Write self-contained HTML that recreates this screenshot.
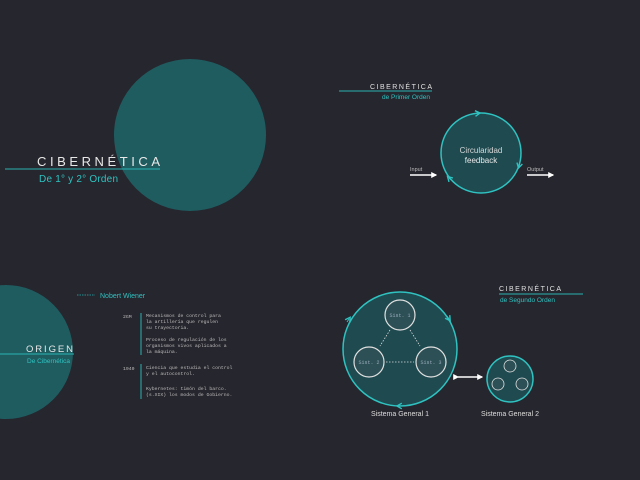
<!DOCTYPE html>
<html><head><meta charset="utf-8"><style>
html,body{margin:0;padding:0;background:#26262e;}
svg{display:block}
text{font-family:"Liberation Sans",sans-serif;}
.mono{font-family:"Liberation Mono",monospace;}
</style></head><body>
<svg width="640" height="480" viewBox="0 0 640 480">
<defs>
<marker id="ah" viewBox="0 0 10 10" refX="5" refY="5" markerWidth="7" markerHeight="7" orient="auto"><path d="M1,1 L8,5 L1,9" fill="none" stroke="#2fc2c0" stroke-width="2"/></marker>
<marker id="tw" viewBox="0 0 10 10" refX="8" refY="5" markerWidth="4" markerHeight="4" orient="auto"><path d="M0,0 L10,5 L0,10z" fill="#fff"/></marker>
</defs>
<rect width="640" height="480" fill="#26262e"/>

<g>
<circle cx="190" cy="135" r="76" fill="#1f5c60"/>
<text x="37" y="166" fill="#e8e8e8" font-size="13" textLength="123" lengthAdjust="spacing">CIBERNÉTICA</text>
<line x1="5" y1="169" x2="160" y2="169" stroke="#2ab3b3" stroke-width="1"/>
<text x="39" y="182" fill="#2fc2c0" font-size="10" textLength="79">De 1° y 2° Orden</text>
</g>

<g>
<text x="370" y="89" fill="#e0e0e0" font-size="7" textLength="62" lengthAdjust="spacing">CIBERNÉTICA</text>
<line x1="339" y1="91" x2="432" y2="91" stroke="#2ab3b3" stroke-width="1"/>
<text x="430" y="99" fill="#2fc2c0" font-size="6.5" text-anchor="end">de Primer Orden</text>
<circle cx="481" cy="153" r="40" fill="#1e4a50" stroke="#2fc2c0" stroke-width="1.5"/>
<path d="M474,113.6 L478,113.2" stroke="#2fc2c0" marker-end="url(#ah)"/>
<path d="M520,162 L519,166" stroke="#2fc2c0" marker-end="url(#ah)"/>
<path d="M451,180 L449,178" stroke="#2fc2c0" marker-end="url(#ah)"/>
<text x="481" y="153" fill="#d8d8d8" font-size="8" text-anchor="middle">Circularidad</text>
<text x="481" y="163" fill="#e8e8e8" font-size="8" text-anchor="middle">feedback</text>
<text x="410" y="171" fill="#bbb" font-size="5.5">Input</text>
<line x1="410" y1="175" x2="436" y2="175" stroke="#fff" stroke-width="1.5" marker-end="url(#tw)"/>
<text x="527" y="171" fill="#bbb" font-size="5.5">Output</text>
<line x1="527" y1="175" x2="553" y2="175" stroke="#fff" stroke-width="1.5" marker-end="url(#tw)"/>
</g>

<g>
<circle cx="6" cy="352" r="67" fill="#1f5c60"/>
<text x="26" y="352" fill="#e8e8e8" font-size="9.5" textLength="47" lengthAdjust="spacing">ORIGEN</text>
<line x1="0" y1="354" x2="74" y2="354" stroke="#2ab3b3" stroke-width="1"/>
<text x="27" y="363" fill="#2fc2c0" font-size="6.5">De Cibernética</text>
<line x1="77" y1="295" x2="95" y2="295" stroke="#2ab3b3" stroke-width="0.8" stroke-dasharray="1.5,1"/>
<text x="100" y="298" fill="#2fc2c0" font-size="7">Nobert Wiener</text>
<g class="mono" fill="#bbb" font-size="4.8">
<text x="123" y="318" class="mono">2GM</text>
<line x1="141" y1="313" x2="141" y2="355" stroke="#2ab3b3" stroke-width="1"/>
<text x="146" y="317" class="mono">Mecanismos de control para</text>
<text x="146" y="323" class="mono">la artillería que regulen</text>
<text x="146" y="329" class="mono">su trayectoria.</text>
<text x="146" y="341" class="mono">Proceso de regulación de los</text>
<text x="146" y="347" class="mono">organismos vivos aplicados a</text>
<text x="146" y="353" class="mono">la máquina.</text>
<text x="123" y="370" class="mono">1940</text>
<line x1="141" y1="364" x2="141" y2="399" stroke="#2ab3b3" stroke-width="1"/>
<text x="146" y="369" class="mono">Ciencia que estudia el control</text>
<text x="146" y="375" class="mono">y el autocontrol.</text>
<text x="146" y="390" class="mono">Kybernetes: timón del barco.</text>
<text x="146" y="396" class="mono">(s.XIX) los modos de Gobierno.</text>
</g>
</g>

<g>
<text x="499" y="291" fill="#e0e0e0" font-size="7" textLength="62" lengthAdjust="spacing">CIBERNÉTICA</text>
<line x1="499" y1="294" x2="583" y2="294" stroke="#2ab3b3" stroke-width="1"/>
<text x="500" y="302" fill="#2fc2c0" font-size="6.5">de Segundo Orden</text>

<g>
<circle cx="400" cy="349" r="57" fill="#1e4a50" stroke="#2fc2c0" stroke-width="1.5"/>
<path d="M447,316 L449,319" stroke="#2fc2c0" marker-end="url(#ah)"/>
<path d="M403,406 L399,406" stroke="#2fc2c0" marker-end="url(#ah)"/>
<path d="M347,322 L349,319" stroke="#2fc2c0" marker-end="url(#ah)"/>
<g stroke="#e0e0e0" stroke-width="1.2" fill="#2c5055">
<circle cx="400" cy="315" r="15"/><circle cx="369" cy="362" r="15"/><circle cx="431" cy="362" r="15"/>
</g>
<g fill="#9ab" font-size="5" class="mono">
<text x="400" y="317" text-anchor="middle" class="mono">Sist. 1</text>
<text x="369" y="364" text-anchor="middle" class="mono">Sist. 2</text>
<text x="431" y="364" text-anchor="middle" class="mono">Sist. 3</text>
</g>
<g stroke="#ddd" stroke-width="0.8" stroke-dasharray="1.5,1.5">
<line x1="390" y1="330" x2="380" y2="346"/><line x1="410" y1="330" x2="420" y2="346"/><line x1="386" y1="362" x2="414" y2="362"/>
</g>
<text x="400" y="416" fill="#ddd" font-size="7" text-anchor="middle" font-family="Liberation Serif">Sistema General 1</text>
</g>
<line x1="458" y1="377" x2="482" y2="377" stroke="#fff" stroke-width="1.5" marker-end="url(#tw)" marker-start="url(#tw)"/>
<g>
<circle cx="510" cy="379" r="23" fill="#1e4a50" stroke="#2fc2c0" stroke-width="1.5"/>
<g stroke="#e0e0e0" stroke-width="0.8" fill="#2c5055">
<circle cx="510" cy="366" r="6"/><circle cx="498" cy="384" r="6"/><circle cx="522" cy="384" r="6"/>
</g>
<text x="510" y="416" fill="#ddd" font-size="7" text-anchor="middle" font-family="Liberation Serif">Sistema General 2</text>
</g>
</g>
</svg>
</body></html>
